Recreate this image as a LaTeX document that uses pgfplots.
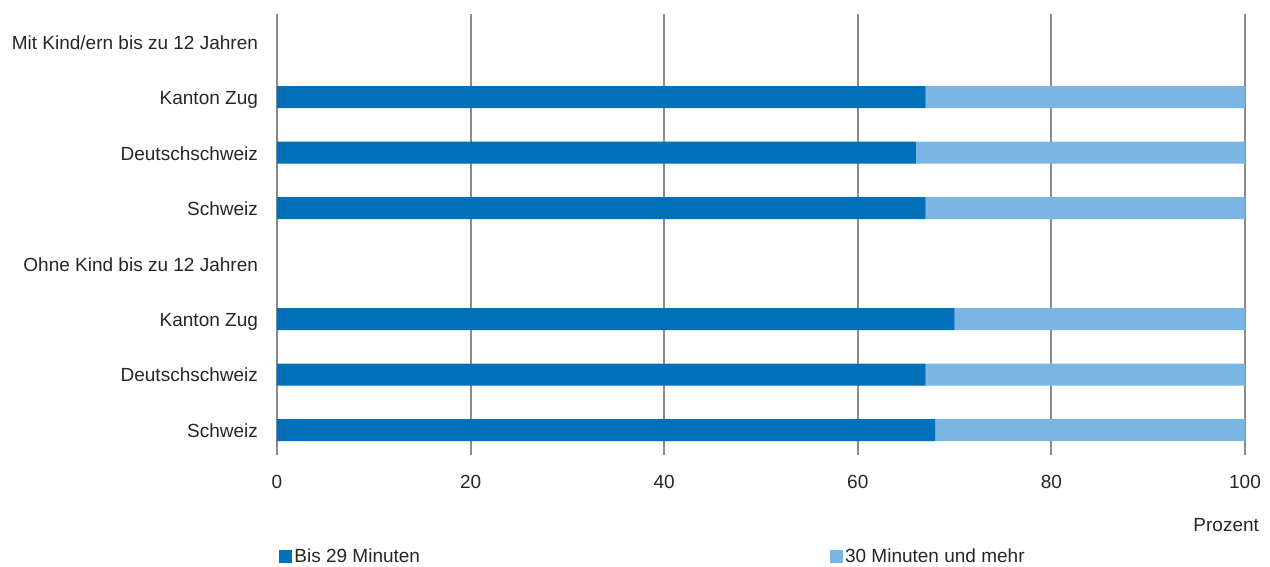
\documentclass[border=0pt]{standalone}
\usepackage{fontspec}
\setmainfont{Liberation Sans}
\usepackage{pgfplots}
\pgfplotsset{compat=1.18}
\definecolor{dblue}{HTML}{0070BA}
\definecolor{lblue}{HTML}{7AB6E3}
\definecolor{gridgray}{HTML}{8C8C8C}
\definecolor{txt}{HTML}{262626}
\begin{document}
\begin{tikzpicture}
\path[use as bounding box] (-138.5pt,-56pt) rectangle (496.5pt,227.5pt);
\begin{axis}[name=ax, at={(0,0)}, anchor=south west,
  scale only axis, width=484pt, height=220.5pt,
  xbar stacked, bar width=11pt,
  xmin=0, xmax=100, ymin=-0.45, ymax=7.5,
  axis line style={draw=none}, major tick length=0pt,
  xmajorgrids, grid style={gridgray, line width=1pt},
  xtick={0,20,...,100}, ytick={0,...,7},
  yticklabels={Schweiz,Deutschschweiz,Kanton Zug,Ohne Kind bis zu 12 Jahren,Schweiz,Deutschschweiz,Kanton Zug,Mit Kind/ern bis zu 12 Jahren},
  tick label style={font=\fontsize{9.5}{11}\selectfont, text=txt},
  /pgf/number format/assume math mode=true,
  xticklabel style={yshift=-6.5pt},
  yticklabel style={xshift=-6pt, yshift=-1.2pt, text height=7pt, text depth=2pt},
  xlabel={Prozent},
  xlabel style={at={(axis description cs:1,0)}, anchor=east, xshift=10.5pt, yshift=-35pt, font=\fontsize{9.5}{11}\selectfont, text=txt},
  legend style={at={(axis description cs:0,0)}, anchor=west, xshift=1pt, yshift=-51pt,
    draw=none, fill=none, inner sep=0pt, font=\fontsize{9.5}{11}\selectfont, text=txt,
    nodes={inner sep=1pt},
    /tikz/every even column/.append style={column sep=204pt}},
  legend columns=2,
  legend cell align=left,
  legend image code/.code={\fill[#1] (0pt,-3.25pt) rectangle (6.5pt,3.25pt);},
]
\addplot[fill=dblue, draw=none] coordinates {(68,0) (67,1) (70,2) (67,4) (66,5) (67,6)};
\addplot[fill=lblue, draw=none] coordinates {(32,0) (33,1) (30,2) (33,4) (34,5) (33,6)};
\legend{Bis 29 Minuten, 30 Minuten und mehr}
\end{axis}
\end{tikzpicture}
\end{document}
